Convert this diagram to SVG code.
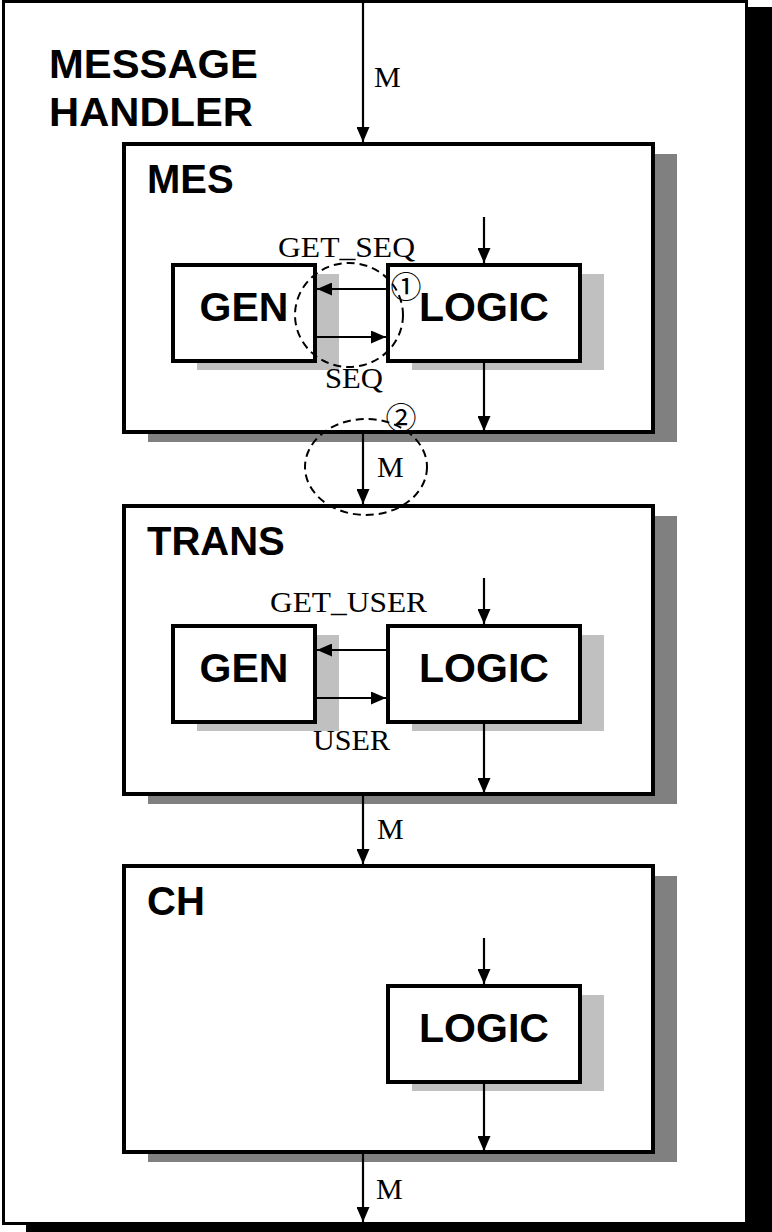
<svg xmlns="http://www.w3.org/2000/svg" width="772" height="1232" viewBox="0 0 772 1232">
<style>
.box{fill:#fff;stroke:#000;stroke-width:4}
.sh{fill:#808080}
.sh2{fill:#c0c0c0}
.title{font-family:"Liberation Sans",Arial,sans-serif;font-weight:bold;font-size:40px}
.big{font-family:"Liberation Sans",Arial,sans-serif;font-weight:bold;font-size:41px;text-anchor:middle}
.lbl{font-family:"Liberation Serif","Times New Roman",serif;font-size:30px}
.num{font-family:"Noto Sans CJK JP","DejaVu Sans",sans-serif;font-size:31px;text-anchor:middle}
.wire{stroke:#000;stroke-width:2.2;fill:none;marker-end:url(#ah)}
.dash{fill:none;stroke:#000;stroke-width:2;stroke-dasharray:8 5}
</style>
<defs>
<marker id="ah" markerWidth="15" markerHeight="13" refX="15" refY="6.5" orient="auto" markerUnits="userSpaceOnUse"><path d="M0,0 L15,6.5 L0,13 z" fill="#000"/></marker>
</defs>
<rect width="772" height="1232" fill="#fff"/>
<g id="handler">
<rect x="26" y="7" width="760" height="1240" fill="#000"/>
<rect x="3.5" y="1.5" width="743" height="1222" fill="#fff" stroke="#000" stroke-width="3"/>
<text class="title" x="49" y="78" textLength="209" lengthAdjust="spacingAndGlyphs">MESSAGE</text>
<text class="title" x="49" y="126" textLength="204" lengthAdjust="spacingAndGlyphs">HANDLER</text>
</g>
<g id="mes">
<rect class="sh" x="148" y="154" width="529" height="288"/>
<rect class="box" x="124" y="144" width="529" height="288"/>
<text class="title" x="147" y="193">MES</text>
</g>
<g id="mes-gen">
<rect class="sh2" x="197" y="274" width="142" height="96"/>
<rect class="box" x="173" y="265" width="142" height="96"/>
<text class="big" x="244" y="321">GEN</text>
</g>
<g id="mes-logic">
<rect class="sh2" x="412" y="274" width="192" height="96"/>
<rect class="box" x="388" y="265" width="192" height="96"/>
<text class="big" x="484" y="321">LOGIC</text>
</g>
<g id="trans">
<rect class="sh" x="148" y="516" width="529" height="288"/>
<rect class="box" x="124" y="506" width="529" height="288"/>
<text class="title" x="147" y="555">TRANS</text>
</g>
<g id="trans-gen">
<rect class="sh2" x="197" y="635" width="142" height="96"/>
<rect class="box" x="173" y="626" width="142" height="96"/>
<text class="big" x="244" y="682">GEN</text>
</g>
<g id="trans-logic">
<rect class="sh2" x="412" y="635" width="192" height="96"/>
<rect class="box" x="388" y="626" width="192" height="96"/>
<text class="big" x="484" y="682">LOGIC</text>
</g>
<g id="ch">
<rect class="sh" x="148" y="876" width="529" height="286"/>
<rect class="box" x="124" y="866" width="529" height="286"/>
<text class="title" x="147" y="915">CH</text>
</g>
<g id="ch-logic">
<rect class="sh2" x="412" y="995" width="192" height="96"/>
<rect class="box" x="388" y="986" width="192" height="96"/>
<text class="big" x="484" y="1042">LOGIC</text>
</g>
<g id="connectors">
<line class="wire" x1="363" y1="0" x2="363" y2="142"/>
<line class="wire" x1="484" y1="217" x2="484" y2="263"/>
<line class="wire" x1="386" y1="289" x2="317" y2="289"/>
<line class="wire" x1="317" y1="337" x2="386" y2="337"/>
<line class="wire" x1="484" y1="363" x2="484" y2="431"/>
<line class="wire" x1="363" y1="434" x2="363" y2="504"/>
<line class="wire" x1="484" y1="578" x2="484" y2="624"/>
<line class="wire" x1="386" y1="650" x2="317" y2="650"/>
<line class="wire" x1="317" y1="698" x2="386" y2="698"/>
<line class="wire" x1="484" y1="724" x2="484" y2="793"/>
<line class="wire" x1="363" y1="796" x2="363" y2="864"/>
<line class="wire" x1="484" y1="938" x2="484" y2="984"/>
<line class="wire" x1="484" y1="1084" x2="484" y2="1151"/>
<line class="wire" x1="363" y1="1154" x2="363" y2="1222"/>
<text class="lbl" x="374" y="87">M</text>
<text class="lbl" x="278" y="257" textLength="137" lengthAdjust="spacingAndGlyphs">GET_SEQ</text>
<text class="lbl" x="325" y="388" textLength="58" lengthAdjust="spacingAndGlyphs">SEQ</text>
<text class="lbl" x="377" y="477">M</text>
<text class="lbl" x="270" y="612" textLength="157" lengthAdjust="spacingAndGlyphs">GET_USER</text>
<text class="lbl" x="313" y="750" textLength="77" lengthAdjust="spacingAndGlyphs">USER</text>
<text class="lbl" x="377" y="839">M</text>
<text class="lbl" x="376" y="1199">M</text>
</g>
<g id="annotations">
<ellipse class="dash" cx="349" cy="315" rx="54" ry="52"/>
<ellipse class="dash" cx="366" cy="467" rx="61" ry="48"/>
<text class="num" x="406" y="298">①</text>
<text class="num" x="401" y="429">②</text>
</g>
</svg>
